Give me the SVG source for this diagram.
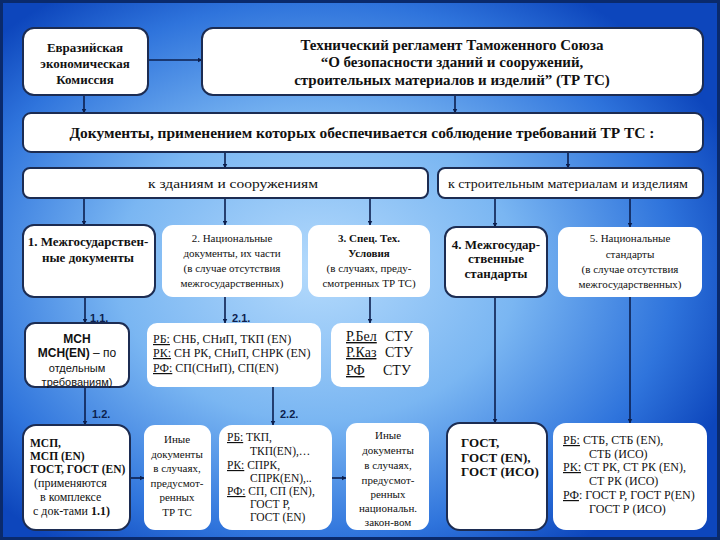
<svg xmlns="http://www.w3.org/2000/svg" width="720" height="540" viewBox="0 0 720 540">
<defs>
<radialGradient id="bg" cx="0.44" cy="0.5" r="0.62">
<stop offset="0" stop-color="#b4dafc"/>
<stop offset="0.45" stop-color="#7ab6f2"/>
<stop offset="0.8" stop-color="#2f74dc"/>
<stop offset="1" stop-color="#0d46bc"/>
</radialGradient>
<marker id="ah" viewBox="0 0 10 10" refX="9" refY="5" markerWidth="5" markerHeight="5" orient="auto" markerUnits="userSpaceOnUse">
<path d="M0,0 L10,5 L0,10 z" fill="#0c1f4e"/>
</marker>
<style>
.bx{fill:#fff;stroke:#1c2c52;stroke-width:2}
.bw{fill:#fff;stroke:none}
.cn{fill:none;stroke:#0c1f4e;stroke-width:1.6;marker-end:url(#ah)}
text{fill:#111;font-family:"Liberation Serif","Times New Roman",serif}
text.s{font-family:"Liberation Sans",Arial,sans-serif}
.b{font-weight:bold}
.c{text-anchor:middle}
.t15{font-size:15px}
.t14{font-size:14px}
.t13{font-size:13px}
.t12{font-size:12px}
.t115{font-size:11.5px}
.t11{font-size:11px}
.u{text-decoration:underline}
.lbl{font-weight:bold;font-size:11px;fill:#0c1f4e}
</style>
</defs>
<rect x="0" y="0" width="720" height="540" fill="url(#bg)"/>
<rect x="1.5" y="1.5" width="717" height="537" fill="none" stroke="#0a2a6c" stroke-width="3"/>

<g id="connectors">
<line class="cn" x1="148" y1="60" x2="202" y2="60"/>
<line class="cn" x1="84" y1="95" x2="84" y2="113"/>
<line class="cn" x1="455" y1="95" x2="455" y2="113"/>
<line class="cn" x1="225" y1="152" x2="225" y2="168"/>
<line class="cn" x1="568" y1="152" x2="568" y2="168"/>
<line class="cn" x1="84" y1="198" x2="84" y2="225"/>
<line class="cn" x1="225" y1="198" x2="225" y2="225"/>
<line class="cn" x1="370" y1="198" x2="370" y2="225"/>
<line class="cn" x1="495" y1="198" x2="495" y2="227"/>
<line class="cn" x1="630" y1="198" x2="630" y2="227"/>
<line class="cn" x1="85" y1="297" x2="85" y2="323"/>
<line class="cn" x1="225" y1="297" x2="225" y2="323"/>
<line class="cn" x1="370" y1="297" x2="370" y2="323"/>
<line class="cn" x1="85" y1="387" x2="85" y2="425"/>
<line class="cn" x1="273" y1="387" x2="273" y2="425"/>
<line class="cn" x1="495" y1="297" x2="495" y2="423"/>
<line class="cn" x1="630" y1="297" x2="630" y2="423"/>
<line class="cn" x1="130" y1="478" x2="144" y2="478"/>
<line class="cn" x1="332" y1="478" x2="346" y2="478"/>
<text class="s lbl" x="90" y="322">1.1.</text>
<text class="s lbl" x="232" y="322">2.1.</text>
<text class="s lbl" x="92" y="418">1.2.</text>
<text class="s lbl" x="280" y="418">2.2.</text>
</g>

<g id="eek">
<rect class="bx" x="23" y="28" width="125" height="67" rx="11"/>
<text class="b c t13" x="85" y="52">Евразийская</text>
<text class="b c t13" x="85" y="68">экономическая</text>
<text class="b c t13" x="85" y="84">Комиссия</text>
</g>

<g id="trts">
<rect class="bx" x="202" y="28" width="501" height="67" rx="11"/>
<text class="b c t15" x="452" y="50">Технический регламент  Таможенного Союза</text>
<text class="b c t15" x="452" y="67">“О безопасности зданий и сооружений,</text>
<text class="b c t15" x="452" y="85">строительных материалов и изделий” (ТР ТС)</text>
</g>

<g id="docs">
<rect class="bx" x="23" y="113" width="680" height="39" rx="8"/>
<text class="b c t14" x="362" y="138" textLength="585" lengthAdjust="spacingAndGlyphs">Документы, применением которых обеспечивается  соблюдение   требований  ТР ТС :</text>
</g>

<g id="zd">
<rect class="bx" x="23" y="168" width="405" height="30" rx="7"/>
<text class="c t12" x="233" y="188" textLength="170" lengthAdjust="spacingAndGlyphs">к  зданиям   и   сооружениям</text>
</g>

<g id="sm">
<rect class="bx" x="438" y="168" width="265" height="30" rx="7"/>
<text class="c t12" x="568" y="188" textLength="240" lengthAdjust="spacingAndGlyphs">к строительным материалам и изделиям</text>
</g>

<g id="n1">
<rect class="bx" x="23" y="225" width="132" height="72" rx="11"/>
<text class="b c t13" x="88" y="246">1. Межгосударствен-</text>
<text class="b c t13" x="88" y="262">ные документы</text>
</g>

<g id="n2">
<rect class="bw" x="162" y="225" width="140" height="72" rx="11"/>
<text class="c t11" x="232" y="242">2. Национальные</text>
<text class="c t11" x="232" y="257">документы, их части</text>
<text class="c t11" x="232" y="272">(в случае отсутствия</text>
<text class="c t11" x="232" y="287">межгосударственных)</text>
</g>

<g id="n3">
<rect class="bw" x="308" y="225" width="122" height="72" rx="11"/>
<text class="b c t11" x="369" y="242">3. Спец. Тех.</text>
<text class="b c t11" x="369" y="257">Условия</text>
<text class="c t11" x="369" y="272">(в случаях, преду-</text>
<text class="c t11" x="369" y="287">смотренных ТР ТС)</text>
</g>

<g id="n4">
<rect class="bx" x="445" y="227" width="102" height="70" rx="11"/>
<text class="b c t13" x="496" y="249">4. Межгосудар-</text>
<text class="b c t13" x="496" y="263">ственные</text>
<text class="b c t13" x="496" y="278">стандарты</text>
</g>

<g id="n5">
<rect class="bw" x="558" y="227" width="144" height="70" rx="11"/>
<text class="c t11" x="630" y="242">5. Национальные</text>
<text class="c t11" x="630" y="258">стандарты</text>
<text class="c t11" x="630" y="273">(в случае отсутствия</text>
<text class="c t11" x="630" y="288">межгосударственных)</text>
</g>

<g id="msn">
<rect class="bx" x="25" y="323" width="104" height="64" rx="10"/>
<text class="s b c t12" x="77" y="343">МСН</text>
<text class="s c t12" x="77" y="357"><tspan class="b">МСН(EN)</tspan> – по</text>
<text class="s c t11" x="77" y="372">отдельным</text>
<text class="s c t11" x="77" y="386">требованиям)</text>
</g>

<g id="snb">
<rect class="bw" x="147" y="323" width="174" height="64" rx="10"/>
<text class="t12" x="153" y="343"><tspan class="u">РБ:</tspan>  СНБ, СНиП, ТКП (EN)</text>
<text class="t12" x="153" y="357"><tspan class="u">РК:</tspan>  СН РК, СНиП, СНРК (EN)</text>
<text class="t12" x="153" y="372"><tspan class="u">РФ:</tspan> СП(СНиП), СП(EN)</text>
</g>

<g id="stu">
<rect class="bw" x="331" y="323" width="98" height="64" rx="10"/>
<text class="t14" x="346" y="341"><tspan class="u">Р.Бел</tspan></text><text class="t14" x="385" y="341">СТУ</text>
<text class="t14" x="346" y="357"><tspan class="u">Р.Каз</tspan></text><text class="t14" x="385" y="357">СТУ</text>
<text class="t14" x="346" y="375"><tspan class="u">РФ</tspan></text><text class="t14" x="383" y="375">СТУ</text>
</g>

<g id="msp">
<rect class="bx" x="23" y="425" width="107" height="105" rx="13"/>
<text class="b t115" x="30" y="447">МСП,</text>
<text class="b t115" x="30" y="460">МСП (EN)</text>
<text class="b t115" x="30" y="473">ГОСТ, ГОСТ (EN)</text>
<text class="t12" x="34" y="487">(применяются</text>
<text class="t12" x="40" y="501">в комплексе</text>
<text class="t12" x="33" y="515">с док-тами <tspan class="b">1.1)</tspan></text>
</g>

<g id="inye1">
<rect class="bw" x="144" y="425" width="67" height="105" rx="11"/>
<text class="c t11" x="177" y="443">Иные</text>
<text class="c t11" x="177" y="458">документы</text>
<text class="c t11" x="177" y="472">в случаях,</text>
<text class="c t11" x="177" y="487">предусмот-</text>
<text class="c t11" x="177" y="501">ренных</text>
<text class="c t11" x="177" y="516">ТР ТС</text>
</g>

<g id="tkp">
<rect class="bw" x="219" y="425" width="113" height="105" rx="13"/>
<text class="t115" x="227" y="441"><tspan class="u">РБ:</tspan>  ТКП,</text>
<text class="t115" x="250" y="455">ТКП(EN),…</text>
<text class="t115" x="227" y="469"><tspan class="u">РК:</tspan>  СПРК,</text>
<text class="t115" x="250" y="482">СПРК(EN),..</text>
<text class="t115" x="227" y="495"><tspan class="u">РФ:</tspan> СП, СП (EN),</text>
<text class="t115" x="250" y="508">ГОСТ Р,</text>
<text class="t115" x="250" y="521">ГОСТ (EN)</text>
</g>

<g id="inye2">
<rect class="bw" x="346" y="423" width="83" height="107" rx="11"/>
<text class="c t11" x="388" y="439">Иные</text>
<text class="c t11" x="388" y="454">документы</text>
<text class="c t11" x="388" y="469">в случаях,</text>
<text class="c t11" x="388" y="484">предусмот-</text>
<text class="c t11" x="388" y="498">ренных</text>
<text class="c t11" x="388" y="512">национальн.</text>
<text class="c t11" x="388" y="526">закон-вом</text>
</g>

<g id="gost">
<rect class="bx" x="447" y="423" width="100" height="107" rx="13"/>
<text class="b t13" x="461" y="447">ГОСТ,</text>
<text class="b t13" x="461" y="462">ГОСТ (EN),</text>
<text class="b t13" x="461" y="476">ГОСТ (ИСО)</text>
</g>

<g id="stb">
<rect class="bw" x="553" y="423" width="154" height="107" rx="13"/>
<text class="t12" x="563" y="444"><tspan class="u">РБ:</tspan>  СТБ, СТБ (EN),</text>
<text class="t12" x="589" y="458">СТБ (ИСО)</text>
<text class="t12" x="563" y="471"><tspan class="u">РК:</tspan>  СТ РК, СТ РК (EN),</text>
<text class="t12" x="589" y="485">СТ РК (ИСО)</text>
<text class="t12" x="563" y="499"><tspan class="u">РФ</tspan>:  ГОСТ Р, ГОСТ Р(EN)</text>
<text class="t12" x="589" y="513">ГОСТ Р (ИСО)</text>
</g>
</svg>
